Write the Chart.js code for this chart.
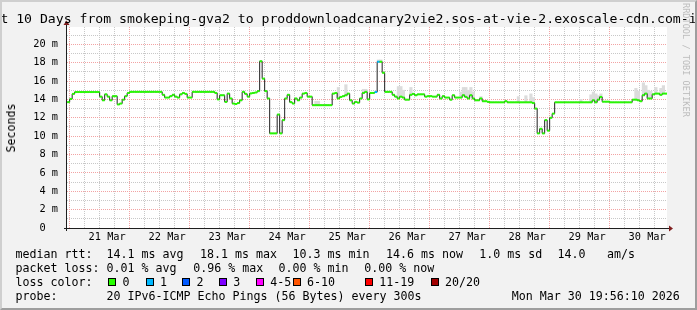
<!DOCTYPE html>
<html>
<head>
<meta charset="utf-8">
<script src="https://cdn.jsdelivr.net/npm/chart.js@4/dist/chart.umd.min.js"></script>
<style>
html,body{margin:0;padding:0;background:#f2f2f2;}
#wrap{position:relative;width:697px;height:310px;overflow:hidden;background:#f2f2f2;font-family:'DejaVu Sans Mono',monospace;color:#000;}
#frame{position:absolute;left:0;top:0;width:697px;height:310px;box-sizing:border-box;border-top:2px solid #cfcfcf;border-left:2px solid #cfcfcf;border-right:2px solid #9e9e9e;border-bottom:2px solid #9e9e9e;pointer-events:none;}
canvas{position:absolute;left:0;top:0;}
.t{position:absolute;white-space:pre;font-size:11.63px;line-height:14px;}
#title{position:absolute;left:-100px;width:897px;top:10.7px;text-align:center;font-size:13.15px;line-height:16px;white-space:pre;}
#ylab{position:absolute;left:10.5px;top:127.5px;transform:translate(-50%,-50%) rotate(-90deg);font-size:11.63px;white-space:pre;}
#wm{position:absolute;left:689.5px;top:3px;transform-origin:0 0;transform:rotate(90deg);font-size:8.6px;line-height:9px;color:#bcbcbc;white-space:pre;}
.box{position:absolute;width:8px;height:8px;box-sizing:border-box;border:1px solid #000;}
</style>
</head>
<body>
<div id="wrap">
  <canvas id="c" width="697" height="310"></canvas>
  <div id="title">Last 10 Days from smokeping-gva2 to proddownloadcanary2vie2.sos-at-vie-2.exoscale-cdn.com-ipv6</div>
  <div id="ylab">Seconds</div>
  <div id="wm">RRDTOOL / TOBI OETIKER</div>
  <div id="legend"></div>
  <div id="frame"></div>
</div>
<script>
// ---------------- data ----------------
const dayLabels = ['21 Mar','22 Mar','23 Mar','24 Mar','25 Mar','26 Mar','27 Mar','28 Mar','29 Mar','30 Mar'];
// hours are counted from 21 Mar 00:00; first value is the hour starting 20 Mar 20:00
const firstHour = -4;
// median RTT (ms), one value per hour (240 values)
const medianMs = [
  // 20 Mar 20:00 .. 21 Mar 19:00
  13.7, 14.05, 14.6, 14.8, 14.8, 14.8, 14.8, 14.8,
  14.8, 14.8, 14.8, 14.8, 14.8, 14.3, 13.9, 14.55,
  14.3, 13.9, 14.35, 14.35, 13.45, 13.55, 13.97, 14.35,
  // 21 Mar 20:00 ..
  14.7, 14.82, 14.82, 14.82, 14.82, 14.82, 14.82, 14.82,
  14.82, 14.82, 14.82, 14.82, 14.82, 14.82, 14.5, 14.2,
  14.2, 14.35, 14.5, 14.3, 14.2, 14.55, 14.7, 14.6,
  // 22 Mar 20:00 ..
  14.2, 14.2, 14.82, 14.82, 14.82, 14.82, 14.82, 14.82,
  14.82, 14.82, 14.82, 14.7, 14.0, 14.45, 14.45, 13.73,
  14.63, 14.1, 13.55, 13.5, 13.6, 13.9, 14.82, 14.6,
  // 23 Mar 20:00 ..
  14.3, 14.65, 14.7, 14.75, 14.9, 18.15, 16.26, 14.9,
  14.1, 10.3, 10.3, 10.3, 12.35, 10.3, 11.74, 14.1,
  14.5, 13.7, 13.55, 14.1, 13.9, 14.2, 14.63, 14.7,
  // 24 Mar 20:00 ..
  14.3, 14.3, 13.37, 13.37, 13.37, 13.37, 13.37, 13.37,
  13.37, 13.37, 14.63, 14.7, 14.1, 14.27, 14.35, 14.45,
  14.63, 13.9, 13.55, 13.73, 13.65, 14.1, 14.7, 14.82,
  // 25 Mar 20:00 ..
  14.0, 14.7, 14.7, 14.8, 18.1, 18.1, 16.9, 14.82,
  14.82, 14.82, 14.5, 14.3, 14.1, 14.3, 14.2, 13.97,
  13.97, 14.5, 14.6, 14.45, 14.55, 14.55, 14.55, 14.3,
  // 26 Mar 20:00 ..
  14.35, 14.35, 14.3, 14.3, 14.5, 14.1, 14.35, 14.2,
  14.2, 13.97, 14.45, 14.2, 14.2, 14.2, 14.45, 14.27,
  14.1, 14.45, 14.1, 13.9, 13.9, 14.1, 13.8, 13.8,
  // 27 Mar 20:00 ..
  13.73, 13.68, 13.68, 13.68, 13.68, 13.68, 13.68, 13.8,
  13.68, 13.68, 13.68, 13.68, 13.68, 13.68, 13.68, 13.68,
  13.68, 13.68, 13.6, 13.0, 10.3, 10.8, 10.3, 11.74,
  // 28 Mar 20:00 ..
  10.6, 12.0, 12.45, 13.68, 13.68, 13.68, 13.68, 13.68,
  13.68, 13.68, 13.68, 13.68, 13.68, 13.68, 13.68, 13.68,
  13.68, 13.68, 13.9, 13.68, 13.97, 14.27, 13.75, 13.75,
  // 29 Mar 20:00 .. 30 Mar 19:00
  13.75, 13.68, 13.68, 13.68, 13.68, 13.68, 13.68, 13.68,
  13.68, 13.68, 13.97, 13.97, 13.9, 13.8, 14.45, 14.63,
  14.1, 14.1, 14.55, 14.63, 14.63, 14.5, 14.63, 14.63
];
// smoke (ping spread) upper edge (ms) at given hours
const smokeHours = [95,96,104,107,114,115,120,121,128,129,130,133,153,154,155,156,157,158,161,176,179,181,182,201,205,206,207,208,209,223,224,226,227,228,229,231,233,234];
const smokeTopMs = [13.8,13.8,15.3,15.6,15.1,15.1,18.3,18.3,15.4,15.4,15.0,15.3,14.8,15.3,15.3,15.0,15.3,14.8,14.3,14.3,14.4,14.6,14.2,14.0,14.5,14.8,14.6,14.4,14.6,15.2,14.9,15.8,15.5,15.0,14.9,15.3,15.2,15.5];
// hours with packet loss (number of lost pings)
const lossHours = [119,120];
const lossCounts = [1,1];
const lossLabels = ['0','1','2','3','4-5','6-10','11-19','20/20'];
const lossColors = ['#26ff00','#00b8ff','#0059ff','#7e00ff','#ff00ff','#ff5500','#ff0000','#a10000'];
const statsRtt = ['14.1 ms avg','18.1 ms max','10.3 ms min','14.6 ms now','1.0 ms sd','14.0','am/s'];
const statsLoss = ['0.01 % avg','0.96 % max','0.00 % min','0.00 % now'];
const probeText = '20 IPv6-ICMP Echo Pings (56 Bytes) every 300s';
const stampText = 'Mon Mar 30 19:56:10 2026';

// ---------------- layout ----------------
const END_H = 9*24 + 19 + 56/60 + 10/3600;
const START_H = END_H - 240;
const Y_MAX = 21.88;
const MAJOR = '#f2a3a3', MINOR = '#c8c8c8';
const rowTop = [247, 261, 275, 289];
const rttX = [106.5, 199.9, 292.5, 385.9, 479.2, 557.5, 606.9];
const lossX = [106.5, 193.2, 278.5, 364.2];
const boxX = [108.3, 145.7, 182.3, 219, 256, 292.7, 365, 430.7];

// ---------------- legend text ----------------
const lg = document.getElementById('legend');
function txt(s, x, y) { const d = document.createElement('div'); d.className = 't'; d.textContent = s; d.style.left = x + 'px'; d.style.top = y + 'px'; lg.appendChild(d); }
txt('median rtt:', 15.5, rowTop[0]);
statsRtt.forEach((s, i) => txt(s, rttX[i], rowTop[0]));
txt('packet loss:', 15.5, rowTop[1]);
statsLoss.forEach((s, i) => txt(s, lossX[i], rowTop[1]));
txt('loss color:', 15.5, rowTop[2]);
lossLabels.forEach((s, i) => {
  const b = document.createElement('div'); b.className = 'box'; b.style.left = boxX[i] + 'px'; b.style.top = '278.2px'; b.style.background = lossColors[i]; lg.appendChild(b);
  txt(s, boxX[i] + 14.2, rowTop[2]);
});
txt('probe:', 15.5, rowTop[3]);
txt(probeText, 106.5, rowTop[3]);
txt(stampText, 511.8, rowTop[3]);

// ---------------- chart data ----------------
const lastIdx = medianMs.length - 1;
const medianPts = medianMs.map((v, i) => ({x: firstHour + i, y: v}));
medianPts.push({x: firstHour + lastIdx + 1, y: medianMs[lastIdx]});
const greenPts = [];
medianMs.forEach((v, i) => { const h = firstHour + i; greenPts.push({x: h, y: v}, {x: h + 1, y: v}, {x: h + 1, y: null}); });
function segColor(i) { const h = firstHour + i; const k = lossHours.indexOf(h); return k < 0 ? lossColors[0] : lossColors[lossCounts[k]]; }
const smokePts = smokeHours.map((h, i) => ({x: h + 0.5, y: [medianMs[h - firstHour], smokeTopMs[i]]}));

Chart.defaults.font.family = "'DejaVu Sans Mono', monospace";

const bgPlugin = {
  id: 'bg',
  beforeDraw(chart) {
    const a = chart.chartArea, c = chart.ctx;
    c.save(); c.fillStyle = '#ffffff'; c.fillRect(a.left, a.top, a.right - a.left, a.bottom - a.top); c.restore();
  },
  afterDraw(chart) {
    const a = chart.chartArea, c = chart.ctx;
    c.save();
    c.strokeStyle = '#1f1f1f'; c.lineWidth = 1;
    c.beginPath();
    c.moveTo(a.left - 3, Math.round(a.bottom) + 0.5); c.lineTo(a.right + 4, Math.round(a.bottom) + 0.5);
    c.moveTo(Math.round(a.left) - 0.5, a.bottom + 3); c.lineTo(Math.round(a.left) - 0.5, a.top - 4);
    c.stroke();
    c.fillStyle = '#801f1f';
    const yb = Math.round(a.bottom) + 0.5, xl = Math.round(a.left) - 0.5;
    c.beginPath(); c.moveTo(a.right + 2, yb - 3); c.lineTo(a.right + 6, yb); c.lineTo(a.right + 2, yb + 3); c.closePath(); c.fill();
    c.beginPath(); c.moveTo(xl - 3, a.top - 2); c.lineTo(xl, a.top - 6.5); c.lineTo(xl + 3, a.top - 2); c.closePath(); c.fill();
    c.restore();
  }
};

new Chart(document.getElementById('c'), {
  type: 'line',
  data: {
    datasets: [
      {type: 'line', data: greenPts, borderColor: lossColors[0], borderWidth: 2, pointRadius: 0, spanGaps: false, borderCapStyle: 'butt',
       segment: {borderColor: ctx => segColor(Math.floor(ctx.p0DataIndex / 3))}},
      {type: 'line', data: medianPts, borderColor: '#202020', borderWidth: 1, pointRadius: 0, stepped: 'before'},
      {type: 'bar', data: smokePts, backgroundColor: '#dcdcdc', borderWidth: 0, barPercentage: 1, categoryPercentage: 1, grouped: false}
    ]
  },
  options: {
    responsive: false, animation: false, devicePixelRatio: 1,
    layout: {padding: {left: 0, right: 30, top: 27, bottom: 0}},
    plugins: {legend: {display: false}, tooltip: {enabled: false}, title: {display: false}},
    scales: {
      x: {
        type: 'linear', min: START_H, max: END_H, offset: false,
        afterBuildTicks: s => { const t = []; for (let v = 0; v <= END_H; v += 6) t.push({value: v}); s.ticks = t; },
        afterFit: s => { s.height = 82; },
        ticks: {autoSkip: false, maxRotation: 0, minRotation: 0, padding: 3, color: '#000', font: {size: 10.3},
          callback: v => (v % 24 === 12 ? dayLabels[Math.floor(v / 24)] : '')},
        grid: {drawTicks: false, lineWidth: 1, color: ctx => (ctx.tick && ctx.tick.value % 24 === 0 ? MAJOR : MINOR)},
        border: {display: false, dash: [1, 1]}
      },
      y: {
        type: 'linear', min: 0, max: Y_MAX,
        afterBuildTicks: s => { const t = []; for (let v = 0; v <= 21; v++) t.push({value: v}); s.ticks = t; },
        afterFit: s => { s.width = 67; },
        ticks: {autoSkip: false, padding: 9, color: '#000', font: {size: 10.3},
          callback: v => (v === 0 ? '0  ' : (v % 2 === 0 ? v + ' m' : ''))},
        grid: {drawTicks: false, lineWidth: 1, color: ctx => (ctx.tick && ctx.tick.value % 2 === 0 ? MAJOR : MINOR)},
        border: {display: false, dash: [1, 1]}
      }
    }
  },
  plugins: [bgPlugin]
});
</script>
</body>
</html>
